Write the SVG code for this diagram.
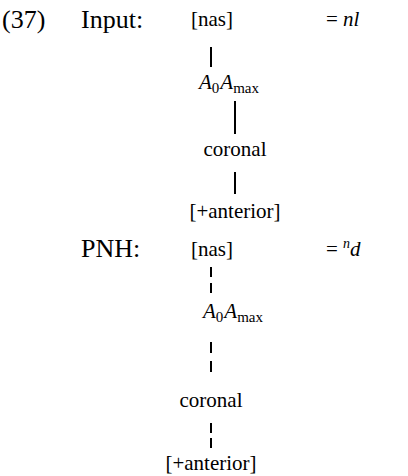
<svg xmlns="http://www.w3.org/2000/svg" width="408" height="476" viewBox="0 0 408 476">
<style>
.t{font-family:"Liberation Serif","Times New Roman",serif;fill:#000}
.h{font-size:26px}
.n{font-size:21px}
.i{font-style:italic}
.sub{font-size:15px;font-style:normal}
.solid{stroke:#000;stroke-width:2;fill:none}
.dash{stroke:#000;stroke-width:2;fill:none}
</style>
<rect width="408" height="476" fill="#fff"/>
<text class="t h" x="2" y="28">(37)</text>
<text class="t h" x="81" y="28">Input:</text>
<text class="t h" x="81" y="257">PNH:</text>
<text class="t n" x="326" y="26">= <tspan class="i">nl</tspan></text>
<text class="t n" x="326" y="256">= <tspan class="i" font-size="14" dy="-8">n</tspan><tspan class="i" dy="8">d</tspan></text>
<g id="connectors">
<line class="solid" x1="211" y1="47" x2="211" y2="67"/>
<line class="solid" x1="235" y1="101" x2="235" y2="134"/>
<line class="solid" x1="235" y1="172" x2="235" y2="194"/>
<line class="dash" x1="211" y1="267" x2="211" y2="293" stroke-dasharray="10 6"/>
<line class="dash" x1="211" y1="342" x2="211" y2="372" stroke-dasharray="11 8"/>
<line class="dash" x1="211" y1="423" x2="211" y2="448" stroke-dasharray="10 5"/>
</g>
<g id="in-nas"><text class="t n" x="212" y="26" text-anchor="middle">[nas]</text></g>
<g id="in-a"><text class="t n i" x="199" y="89">A<tspan class="sub" dy="4">0</tspan><tspan dy="-4" dx="1">A</tspan><tspan class="sub" dy="4">max</tspan></text></g>
<g id="in-cor"><text class="t n" x="235" y="156" text-anchor="middle">coronal</text></g>
<g id="in-ant"><text class="t n" x="235" y="218" text-anchor="middle">[+anterior]</text></g>
<g id="pnh-nas"><text class="t n" x="212" y="256" text-anchor="middle">[nas]</text></g>
<g id="pnh-a"><text class="t n i" x="203" y="318">A<tspan class="sub" dy="4">0</tspan><tspan dy="-4" dx="1">A</tspan><tspan class="sub" dy="4">max</tspan></text></g>
<g id="pnh-cor"><text class="t n" x="211" y="407" text-anchor="middle">coronal</text></g>
<g id="pnh-ant"><text class="t n" x="211" y="470" text-anchor="middle">[+anterior]</text></g>
</svg>
